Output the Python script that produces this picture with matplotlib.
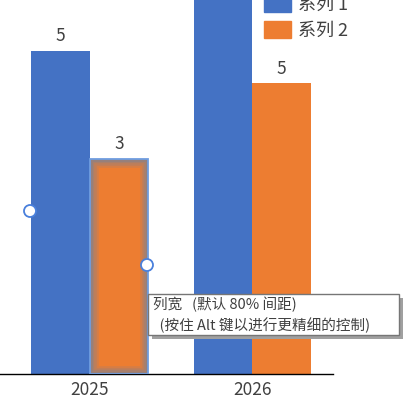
import matplotlib
matplotlib.use("Agg")
import matplotlib.pyplot as plt
from matplotlib.patches import Rectangle, Circle, Patch
import numpy as np

plt.rcParams['font.family'] = ['Noto Sans CJK SC', 'DejaVu Sans']

# données (hauteurs des barres telles que dessinées)
categories = ['2025', '2026']
series_names = ['系列 1', '系列 2']
serie1 = [5.0, 7.0]
serie2 = [3.33, 4.5]
labels1 = ['5', '']
labels2 = ['3', '5']
tooltip_lines = ['列宽   (默认 80% 间距)', '  (按住 Alt 键以进行更精细的控制)']

blue = '#4472C4'
orange = '#ED7D31'
text_col = '#404040'

W, H = 420, 398
fig = plt.figure(figsize=(W / 100, H / 100), dpi=100)
ax = fig.add_axes([0, (H - 374) / H, 333 / W, 374 / H])

x = np.arange(len(categories))
width = 0.36
b1 = ax.bar(x - width / 2, serie1, width, color=blue, zorder=2)
b2 = ax.bar(x + width / 2, serie2, width, color=orange, zorder=2)

ax.set_xlim(-0.551, 1.498)
ax.set_ylim(0, 5.79)

for bars, labs in [(b1, labels1), (b2, labels2)]:
    for rect, lab in zip(bars, labs):
        if lab:
            ax.annotate(lab, (rect.get_x() + rect.get_width() / 2, rect.get_height()),
                        xytext=(0, 4), textcoords='offset points', ha='center', va='bottom',
                        fontsize=12.5, color=text_col)

# barre sélectionnée (2025, série 2) : halo gris intérieur + contour bleu
sel = b2[0]
for lw, a in [(12, 0.2), (9, 0.25), (6, 0.3), (3.5, 0.4)]:
    r = Rectangle((sel.get_x(), 0), sel.get_width(), sel.get_height(),
                  fill=False, edgecolor='#7a8296', alpha=a, linewidth=lw, zorder=3)
    ax.add_patch(r)
    r.set_clip_path(sel)
ax.add_patch(Rectangle((sel.get_x(), 0), sel.get_width(), sel.get_height(),
                       fill=False, edgecolor='#6f9de0', linewidth=1.3, zorder=4))

for s in ['top', 'right', 'left']:
    ax.spines[s].set_visible(False)
ax.spines['bottom'].set_color('black')
ax.spines['bottom'].set_linewidth(1)
ax.set_yticks([])
ax.set_xticks(x)
ax.set_xticklabels(categories, fontsize=12.5, color=text_col)
ax.tick_params(axis='x', length=0, pad=5)

# légende (coupée en haut)
handles = [Patch(color=blue), Patch(color=orange)]
fig.legend(handles=handles, labels=series_names, loc='upper left',
           bbox_to_anchor=(251 / W, 1 + 17 / H), frameon=False, fontsize=13,
           handlelength=1.5, handleheight=1.05, handletextpad=0.38,
           labelspacing=0.4, borderpad=0.2, labelcolor=text_col)

# poignées de sélection
for cx, cy in [(30, 211), (147, 265)]:
    fig.patches.append(Circle((cx, H - cy), 6, transform=None, facecolor='white',
                              edgecolor='#4a80dc', linewidth=1.3, zorder=10))

# info-bulle
bx0, by0, bx1, by1 = 148, 294, 399, 335
fig.patches.append(Rectangle((bx0 + 4, H - by1 - 4), bx1 - bx0, by1 - by0, transform=None,
                             facecolor='#a0a0a0', edgecolor='none', zorder=11))
fig.patches.append(Rectangle((bx0, H - by1), bx1 - bx0, by1 - by0, transform=None,
                             facecolor='white', edgecolor='#767676', linewidth=1, zorder=12))
fig.text(153 / W, 1 - 304 / H, tooltip_lines[0], fontsize=10.5, color=text_col,
         va='center', ha='left', zorder=13)
fig.text(153 / W, 1 - 325 / H, tooltip_lines[1], fontsize=10.5, color=text_col,
         va='center', ha='left', zorder=13)

fig.savefig('out.png', dpi=100)
